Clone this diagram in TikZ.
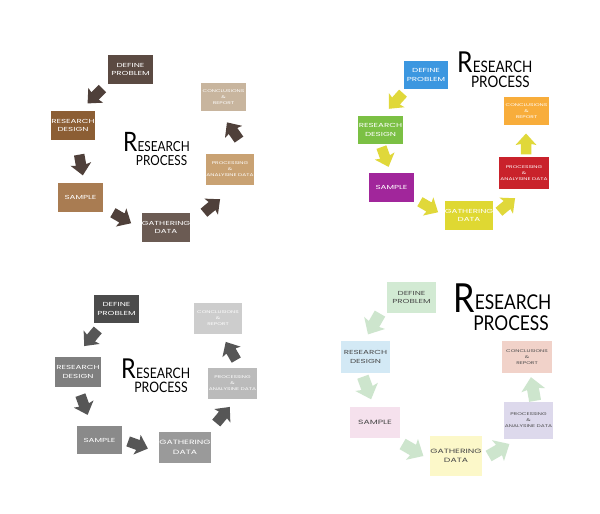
\documentclass[tikz,border=0pt]{standalone}
\usepackage{fontspec}
\setmainfont{Lato}
\newfontfamily\ttlfont[FakeStretch=0.85]{Lato}
\newfontfamily\boxfont[FakeStretch=1.5]{Poppins}
\usetikzlibrary{positioning}

% brown set
\definecolor{brA}{HTML}{5B4A42}
\definecolor{brB}{HTML}{8C5E34}
\definecolor{brC}{HTML}{A97C52}
\definecolor{brD}{HTML}{6B5B53}
\definecolor{brE}{HTML}{C9A273}
\definecolor{brF}{HTML}{C8B59E}
\definecolor{brArr}{HTML}{4F403A}
% colour set
\definecolor{clA}{HTML}{3C97E0}
\definecolor{clB}{HTML}{7BC044}
\definecolor{clC}{HTML}{A1269B}
\definecolor{clD}{HTML}{DFD832}
\definecolor{clE}{HTML}{C9222B}
\definecolor{clF}{HTML}{F8AD3B}
\definecolor{clArr}{HTML}{E0D83A}
% grey set
\definecolor{gyA}{HTML}{4B4B4B}
\definecolor{gyB}{HTML}{7F7F7F}
\definecolor{gyC}{HTML}{8A8A8A}
\definecolor{gyD}{HTML}{9A9A9A}
\definecolor{gyE}{HTML}{BBBBBB}
\definecolor{gyF}{HTML}{CDCDCD}
\definecolor{gyArr}{HTML}{565656}
% pastel set
\definecolor{psA}{HTML}{D2EAD3}
\definecolor{psB}{HTML}{D3E9F5}
\definecolor{psC}{HTML}{F5E1ED}
\definecolor{psD}{HTML}{FCF8C9}
\definecolor{psE}{HTML}{DDD9EC}
\definecolor{psF}{HTML}{F1D2C9}
\definecolor{psArr}{HTML}{CDE5CD}
\definecolor{psTxt}{HTML}{4A4A4A}

\tikzset{
  stepbox/.style={fill=#1, text=white, align=center, inner sep=0pt},
  wh/.style 2 args={minimum width=#1*0.05cm, minimum height=#2*0.05cm},
  big/.style={font=\boxfont\fontsize{8.3}{11.5}\selectfont},
  mid/.style={font=\boxfont\fontsize{8.8}{13.5}\selectfont},
  tiny/.style={font=\boxfont\fontsize{5.6}{8.5}\selectfont},
  ttl/.style={inner sep=0pt, text=black},
  blk/.pic={\fill[pic actions] (-0.5,-0.25) -- (0,-0.25) -- (-0.05,-0.5) -- (0.5,0) -- (-0.05,0.5) -- (0,0.25) -- (-0.5,0.25) -- cycle;}
}

\begin{document}
\begin{tikzpicture}[line cap=round,line join=round,x=0.05cm,y=-0.05cm]
\useasboundingbox[fill=white] (0,0) rectangle (600,514);

%% top left
\node[stepbox=brA, wh={45}{29}, big] (p1def) at (130.5,69.5) {DEFINE\\PROBLEM};
\node[stepbox=brB, wh={44}{29}, big] (p1des) at (73,125.5) {RESEARCH\\DESIGN};
\node[stepbox=brC, wh={45}{29}, big] (p1smp) at (80.5,197.5) {SAMPLE};
\node[stepbox=brD, wh={44}{29}, big] (p1gat) at (166,227.5) {GATHERING\\DATA};
\node[stepbox=brE, wh={48}{31}, tiny] (p1pro) at (230,169.5) {PROCESSING\\\&\\ANALYSINE DATA};
\node[stepbox=brF, wh={45}{28}, tiny] (p1con) at (223.5,97) {CONCLUSIONS\\\&\\REPORT};
\node[ttl, anchor=base west, font=\ttlfont\fontsize{38}{38}\selectfont] (p1r) at (123,152) {R};
\node[ttl, anchor=base west, font=\ttlfont\fontsize{19.7}{20}\selectfont] (p1e) at (p1r.base east) {ESEARCH};
\node[ttl, anchor=base, font=\ttlfont\fontsize{19.7}{20}\selectfont] (p1p) at ([yshift=-19pt,xshift=-3pt]p1e.base) {PROCESS};
\foreach \x/\y/\a in {95/96/225, 81/165/280, 122/218/330, 212/206/40, 233/131/125}
  \pic[fill=brArr, rotate=\a, scale=21] at (\x,\y) {blk};

%% top right
\node[stepbox=clA, wh={44}{28}, big] (p2def) at (426,75) {DEFINE\\PROBLEM};
\node[stepbox=clB, wh={45}{28}, big] (p2des) at (380.5,130) {RESEARCH\\DESIGN};
\node[stepbox=clC, wh={45}{29}, big] (p2smp) at (391.5,187.5) {SAMPLE};
\node[stepbox=clD, wh={44}{29}, big] (p2gat) at (469,215.5) {GATHERING\\DATA};
\node[stepbox=clE, wh={50}{32}, tiny] (p2pro) at (524,173) {PROCESSING\\\&\\ANALYSINE DATA};
\node[stepbox=clF, wh={45}{28}, tiny] (p2con) at (526.5,111) {CONCLUSIONS\\\&\\REPORT};
\node[ttl, anchor=base west, font=\ttlfont\fontsize{41}{41}\selectfont] (p2r) at (457,73) {R};
\node[ttl, anchor=base west, font=\ttlfont\fontsize{22.5}{23}\selectfont] (p2e) at ([yshift=1pt]p2r.base east) {ESEARCH};
\node[ttl, anchor=base, font=\ttlfont\fontsize{22.5}{23}\selectfont] (p2p) at ([yshift=-22pt,xshift=-3pt]p2e.base) {PROCESS};
\foreach \x/\y/\a in {396/101/228, 385/157/290, 429/207/330, 507/205/40, 526/144/90}
  \pic[fill=clArr, rotate=\a, scale=21] at (\x,\y) {blk};

%% bottom left
\node[stepbox=gyA, wh={45}{28}, big] (p3def) at (116.5,309) {DEFINE\\PROBLEM};
\node[stepbox=gyB, wh={46}{30}, big] (p3des) at (78,372) {RESEARCH\\DESIGN};
\node[stepbox=gyC, wh={45}{28}, big] (p3smp) at (99.5,440) {SAMPLE};
\node[stepbox=gyD, wh={52}{31}, mid] (p3gat) at (185,447.5) {GATHERING\\DATA};
\node[stepbox=gyE, wh={49}{31}, tiny] (p3pro) at (232.5,383.5) {PROCESSING\\\&\\ANALYSINE DATA};
\node[stepbox=gyF, wh={48}{31}, tiny] (p3con) at (218,318.5) {CONCLUSIONS\\\&\\REPORT};
\node[ttl, anchor=base west, font=\ttlfont\fontsize{39}{39}\selectfont] (p3r) at (121,378) {R};
\node[ttl, anchor=base west, font=\ttlfont\fontsize{20.5}{21}\selectfont] (p3e) at (p3r.base east) {ESEARCH};
\node[ttl, anchor=base, font=\ttlfont\fontsize{20.5}{21}\selectfont] (p3p) at ([yshift=-20pt,xshift=-3pt]p3e.base) {PROCESS};
\foreach \x/\y/\a in {91/338/230, 84/405/290, 138/445/340, 223/415/50, 231/351/120}
  \pic[fill=gyArr, rotate=\a, scale=21] at (\x,\y) {blk};

%% bottom right
\node[stepbox=psA, wh={49}{31}, big, text=psTxt] (p4def) at (411.5,297.5) {DEFINE\\PROBLEM};
\node[stepbox=psB, wh={49}{32}, big, text=psTxt] (p4des) at (365.5,357) {RESEARCH\\DESIGN};
\node[stepbox=psC, wh={50}{31}, mid, text=psTxt] (p4smp) at (375,422.5) {SAMPLE};
\node[stepbox=psD, wh={50}{40}, mid, text=psTxt] (p4gat) at (456,456) {GATHERING\\DATA};
\node[stepbox=psE, wh={49}{37}, tiny, text=psTxt] (p4pro) at (528.5,420.5) {PROCESSING\\\&\\ANALYSINE DATA};
\node[stepbox=psF, wh={50}{32}, tiny, text=psTxt] (p4con) at (527,357) {CONCLUSIONS\\\&\\REPORT};
\node[ttl, anchor=base west, font=\ttlfont\fontsize{57}{57}\selectfont] (p4r) at (453,312) {R};
\node[ttl, anchor=base west, font=\ttlfont\fontsize{29}{29}\selectfont] (p4e) at ([yshift=4pt]p4r.base east) {ESEARCH};
\node[ttl, anchor=base, font=\ttlfont\fontsize{29}{29}\selectfont] (p4p) at ([yshift=-30pt,xshift=-3pt]p4e.base) {PROCESS};
\foreach \x/\y/\a in {374/324/240, 367/388/290, 413/450/330, 499/450/30, 533/389/100}
  \pic[fill=psArr, rotate=\a, scale=24] at (\x,\y) {blk};
\end{tikzpicture}
\end{document}
